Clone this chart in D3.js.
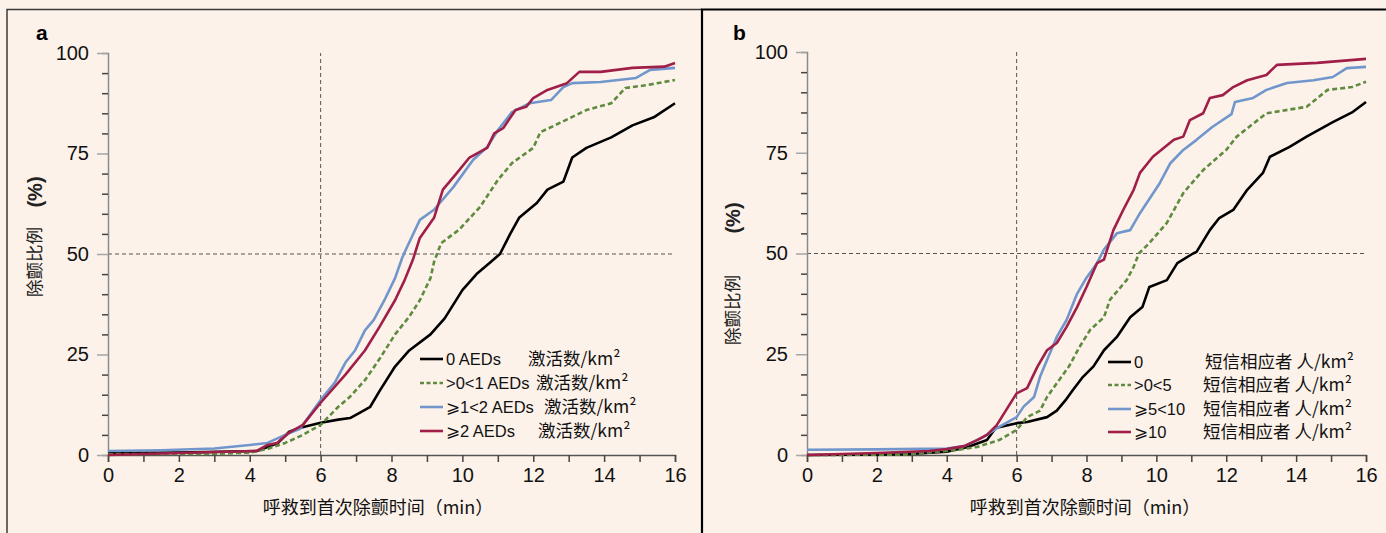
<!DOCTYPE html>
<html>
<head>
<meta charset="utf-8">
<script src="https://cdn.jsdelivr.net/npm/d3@7"></script>
<style>
  body { margin: 0; background: #fcf2ea; }
  svg { display: block; font-family: "Liberation Sans", Arial, sans-serif; }
</style>
</head>
<body>
<div id="chart"></div>
<script>
// Time axis ticks (min) and percentage ticks
const xTicks = d3.range(0, 17, 1);
const yTicks = d3.range(0, 101, 5);

// Panel a: AED density groups, [min, %]
const aNone = [[0,0.5],[2,0.6],[4.2,1],[4.5,2],[4.8,3],[5.1,5.7],[5.4,6.7],[6,8],[6.5,8.8],[6.83,9.2],[7.1,10.5],[7.4,12],[7.67,16],[8.1,22],[8.5,26],[9.1,30],[9.5,34],[10,41],[10.4,45],[10.8,48],[11.06,50],[11.35,55],[11.6,59],[12.1,62.7],[12.4,66],[12.85,68],[13.1,74],[13.5,76.4],[14.2,79],[14.8,82],[15.4,84],[16,87.5]];
const aLow = [[0,0.2],[3,0.3],[4,0.6],[4.5,1.5],[5,3],[5.5,5],[6,7.5],[6.5,12],[6.83,14.5],[7.25,18.6],[7.67,24],[8.1,30],[8.5,34.4],[8.8,38.5],[9.1,44],[9.2,48],[9.4,52.7],[9.9,56],[10.5,61.7],[11,68.4],[11.4,72.6],[12,76.4],[12.2,80.3],[12.75,82.6],[13.5,85.8],[14.2,87.5],[14.6,91.3],[15.2,92],[16,93.3]];
const aMid = [[0,1],[1.5,1.2],[3,1.6],[4,2.5],[4.5,3],[5,5],[5.42,6.5],[6,13.7],[6.4,18],[6.7,23],[6.97,26],[7.25,31],[7.5,33.6],[7.8,38.5],[8.1,44],[8.3,49],[8.4,51],[8.8,58.5],[9.2,61],[9.75,66.7],[10.3,73.4],[10.7,76.6],[11,80.8],[11.4,85.3],[11.9,87.5],[12.5,88.3],[12.85,91.5],[13.1,92.5],[13.9,92.8],[14.9,93.8],[15.3,95.8],[16,96.3]];
const aHigh = [[0,0],[2,0.5],[4.2,1],[4.5,2.5],[4.77,3],[5.1,5.5],[5.5,7.5],[6,13],[6.7,20],[7.25,26],[7.67,32],[8.1,38.5],[8.37,43.5],[8.6,48.5],[8.8,54],[9.2,59],[9.45,66],[9.83,70],[10.2,74],[10.7,76.4],[10.9,80],[11.15,81.3],[11.5,85.8],[11.8,86.6],[12,88.8],[12.4,90.8],[12.95,92.5],[13.3,95.3],[13.9,95.3],[14.8,96.3],[15.7,96.6],[16,97.5]];

// Panel b: SMS responder density groups, [min, %]
const bNone = [[0,0],[2.8,0.2],[4,0.8],[4.6,2],[5.15,3.7],[5.4,6.7],[6,7.9],[6.3,8.2],[6.87,9.4],[7.15,11],[7.4,13.6],[7.6,16],[7.9,19.4],[8.2,22],[8.5,26],[8.87,29.3],[9.25,34.2],[9.6,36.7],[9.8,41.7],[10.3,43.4],[10.6,47.6],[11.05,50],[11.15,50.4],[11.53,55.8],[11.8,58.8],[12.2,60.8],[12.6,65.8],[13.05,70],[13.25,74],[13.8,76.4],[14.3,79],[15.05,82.6],[15.6,85],[16,87.6]];
const bLow = [[0,0],[2.8,0.1],[4,1],[4.5,1.5],[4.87,2],[5.5,3.7],[6,6.2],[6.3,9.4],[6.67,11],[6.87,14.4],[7.15,17.8],[7.5,22],[7.8,26.8],[8.1,31],[8.5,34.2],[8.67,38.5],[9.15,43.4],[9.35,46.7],[9.5,50],[9.8,52.6],[10.3,57.6],[10.77,65],[11.34,70.7],[12,75.7],[12.3,79],[13.15,84.8],[14.3,86.4],[14.9,90.6],[15.6,91.3],[16,92.6]];
const bMid = [[0,1.3],[2,1.4],[4,1.6],[4.5,2.2],[5.05,4.5],[5.5,7],[6,9.4],[6.2,12],[6.5,14.4],[6.67,19.4],[6.87,23.6],[7.15,29.3],[7.43,33.5],[7.73,40],[8,44],[8.3,47.6],[8.5,51],[8.87,55],[9.25,55.8],[9.53,60],[10.1,67.5],[10.4,72.4],[10.77,75.7],[11.15,78.2],[11.6,81.4],[12.15,84.6],[12.25,87.6],[12.77,88.6],[13.15,90.6],[13.74,92.3],[14.5,93],[15.05,93.8],[15.45,96],[16,96.3]];
const bHigh = [[0,0],[2,0.5],[3.5,1],[4,1.5],[4.5,2.2],[4.87,3.7],[5.15,5],[5.43,7.4],[6,15.3],[6.3,16.6],[6.6,22],[6.87,26],[7.15,27.8],[7.43,31.8],[7.73,36.7],[8,41.7],[8.3,47.6],[8.5,48.5],[8.77,55.8],[9.05,60.8],[9.35,65.8],[9.53,70],[9.9,74],[10.5,78.2],[10.77,79],[10.96,83.1],[11.34,84.8],[11.53,88.6],[11.9,89.3],[12.2,91.3],[12.6,93],[13.15,94.3],[13.45,96.8],[14.6,97.3],[16,98.3]];

const aLabels = ["0 AEDs", ">0<1 AEDs", "\u2A7E1<2 AEDs", "\u2A7E2 AEDs"];
const aUnits = ["激活数/km²", "激活数/km²", "激活数/km²", "激活数/km²"];
const bLabels = ["0", ">0<5", "\u2A7E5<10", "\u2A7E10"];
const bUnits = ["短信相应者 人/km²", "短信相应者 人/km²", "短信相应者 人/km²", "短信相应者 人/km²"];

const colors = ["#000000", "#5f8b3f", "#7196cb", "#a01f48"];
const dashes = [null, "5,3", null, null];

const W = 1386, H = 533;
const svg = d3.select("#chart").append("svg")
  .attr("width", W).attr("height", H);

svg.append("rect").attr("width", W).attr("height", H).attr("fill", "#fcf2ea");

// panel frames
svg.append("path").attr("d", "M7,533 V9.5 H702").attr("fill", "none")
  .attr("stroke", "#3a3a3a").attr("stroke-width", 1.5);
svg.append("path").attr("d", "M702,533 V9.5 H1386").attr("fill", "none")
  .attr("stroke", "#000").attr("stroke-width", 2.2);

function drawPanel(p) {
  const x = d3.scaleLinear().domain([0, 16]).range([p.x0, p.x1]);
  const y = d3.scaleLinear().domain([0, 100]).range([p.y0, p.y1]);
  const g = svg.append("g");

  g.append("text").attr("x", p.tagX).attr("y", 40).text(p.tag)
    .attr("font-size", 21).attr("font-weight", "bold");

  // reference lines at 6 min and 50 %
  g.append("line").attr("x1", x(6)).attr("x2", x(6)).attr("y1", y(0)).attr("y2", y(100))
    .attr("stroke", "#555").attr("stroke-dasharray", "4,3").attr("stroke-width", 1);
  g.append("line").attr("x1", x(0)).attr("x2", x(16)).attr("y1", y(50)).attr("y2", y(50))
    .attr("stroke", "#555").attr("stroke-dasharray", "4,3").attr("stroke-width", 1);

  // y axis
  const ya = g.append("g").attr("transform", `translate(${p.x0},0)`)
    .call(d3.axisLeft(y).tickValues(yTicks).tickSize(6).tickPadding(13)
      .tickFormat(d => d % 25 === 0 ? d : ""));
  ya.select(".domain").attr("stroke", "#8a8a8a").attr("stroke-width", 1.5);
  ya.selectAll(".tick line").attr("stroke", "#444").attr("stroke-width", 1.5);
  ya.selectAll(".tick").filter(d => d % 25 === 0).select("line")
    .attr("x2", -11).attr("stroke", "#a5a5a5");
  ya.selectAll("text").attr("font-size", 20).attr("fill", "#111")
    .attr("font-family", "Liberation Sans, Arial, sans-serif");

  // x axis
  const xa = g.append("g").attr("transform", `translate(0,${p.y0})`)
    .call(d3.axisBottom(x).tickValues(xTicks).tickSize(7).tickPadding(6)
      .tickFormat(d => d % 2 === 0 ? d : ""));
  xa.select(".domain").attr("stroke", "#555").attr("stroke-width", 1.5);
  xa.selectAll(".tick line").attr("stroke", "#444").attr("stroke-width", 1.5);
  xa.selectAll("text").attr("font-size", 20).attr("fill", "#111")
    .attr("font-family", "Liberation Sans, Arial, sans-serif");

  g.append("text").attr("x", p.titleX).attr("y", 514).attr("text-anchor", "middle")
    .attr("font-size", 18).attr("fill", "#111")
    .attr("font-family", "Noto Sans CJK SC, sans-serif")
    .text("呼救到首次除颤时间（min）");

  // y title, rotated
  g.append("text").attr("transform", `translate(${p.ytX},${p.ytY1}) rotate(-90)`)
    .attr("text-anchor", "middle").attr("font-size", 17.5).attr("fill", "#222")
    .attr("font-family", "Noto Sans CJK SC, sans-serif").text("除颤比例");
  g.append("text").attr("transform", `translate(${p.ytX + 1},${p.ytY2}) rotate(-90)`)
    .attr("text-anchor", "middle").attr("font-size", 20).attr("font-weight", "bold")
    .attr("fill", "#222").text("(%)");

  const line = d3.line().x(d => x(d[0])).y(d => y(d[1]));
  p.series.forEach((s, i) => {
    g.append("path").datum(s).attr("fill", "none")
      .attr("stroke", colors[i]).attr("stroke-width", 2.6)
      .attr("stroke-linejoin", "round")
      .attr("stroke-dasharray", dashes[i])
      .attr("d", line);
  });

  // legend
  const lg = g.append("g");
  p.labels.forEach((lab, i) => {
    const ly = p.legY[i];
    lg.append("line").attr("x1", p.legX).attr("x2", p.legX + 23).attr("y1", ly).attr("y2", ly)
      .attr("stroke", colors[i]).attr("stroke-width", 2.6)
      .attr("stroke-dasharray", dashes[i] ? "4,2.5" : null);
    lg.append("text").attr("x", p.legX + 26).attr("y", ly + 6)
      .attr("font-size", 16.5).attr("fill", "#111").text(lab);
    lg.append("text").attr("x", p.unitX[i]).attr("y", ly + 6)
      .attr("font-size", 17.5).attr("fill", "#111")
      .attr("font-family", "Noto Sans CJK SC, serif")
      .attr("xml:space", "preserve")
      .text(p.units[i]);
  });
}

drawPanel({
  tag: "a", tagX: 36, x0: 108, x1: 675, y0: 455, y1: 53,
  titleX: 378, ytX: 41, ytY1: 262, ytY2: 192,
  series: [aNone, aLow, aMid, aHigh],
  labels: aLabels, units: aUnits,
  legX: 420, legY: [359, 383, 407, 431], unitX: [528, 536, 544, 538]
});

drawPanel({
  tag: "b", tagX: 733, x0: 807, x1: 1366, y0: 455, y1: 52,
  titleX: 1085, ytX: 739, ytY1: 310, ytY2: 218,
  series: [bNone, bLow, bMid, bHigh],
  labels: bLabels, units: bUnits,
  legX: 1108, legY: [362, 385, 409, 432], unitX: [1205, 1203, 1203, 1203]
});
</script>
</body>
</html>
